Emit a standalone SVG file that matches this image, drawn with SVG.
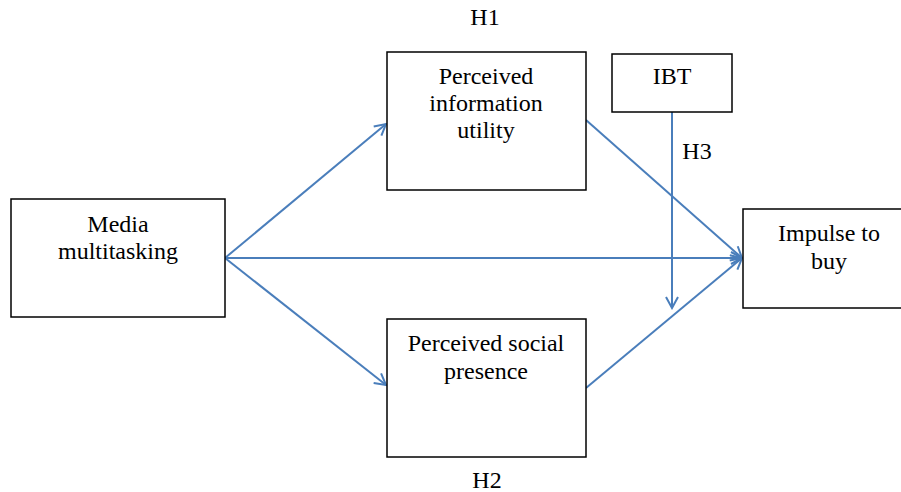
<svg xmlns="http://www.w3.org/2000/svg" width="901" height="492" viewBox="0 0 901 492">
<style>
.box{fill:#fff;stroke:#000;stroke-width:1.5}
.t{font-family:"Liberation Serif","Times New Roman",serif;font-size:24px;fill:#000;text-anchor:middle}
.c{stroke:#4a7ebb;stroke-width:2;fill:none}
</style>
<defs>
<marker id="a" markerWidth="14" markerHeight="14" refX="12" refY="7" orient="auto" markerUnits="userSpaceOnUse">
<path d="M1,1 L12,7 L1,13" fill="none" stroke="#4a7ebb" stroke-width="2"/>
</marker>
</defs>
<rect width="901" height="492" fill="#fff"/>
<g id="connectors">
<line class="c" x1="225" y1="258" x2="386" y2="124" marker-end="url(#a)"/>
<line class="c" x1="225" y1="258" x2="386" y2="385" marker-end="url(#a)"/>
<line class="c" x1="225" y1="258" x2="742" y2="258" marker-end="url(#a)"/>
<line class="c" x1="586" y1="120" x2="742" y2="258" marker-end="url(#a)"/>
<line class="c" x1="586" y1="388" x2="742" y2="258" marker-end="url(#a)"/>
<line class="c" x1="672" y1="112" x2="672" y2="308" marker-end="url(#a)"/>
</g>
<g id="media">
<rect class="box" x="11" y="199" width="214" height="118"/>
<text class="t" x="118" y="232">Media</text>
<text class="t" x="118" y="259">multitasking</text>
</g>
<g id="piu">
<rect class="box" x="387" y="52" width="199" height="138"/>
<text class="t" x="486" y="84">Perceived</text>
<text class="t" x="486" y="111">information</text>
<text class="t" x="486" y="138">utility</text>
</g>
<g id="ibt">
<rect class="box" x="612" y="54" width="120" height="58"/>
<text class="t" x="672" y="84">IBT</text>
</g>
<g id="impulse">
<rect class="box" x="743" y="209" width="170" height="99"/>
<text class="t" x="829" y="241">Impulse to</text>
<text class="t" x="829" y="269">buy</text>
</g>
<g id="psp">
<rect class="box" x="387" y="319" width="199" height="138"/>
<text class="t" x="486" y="351">Perceived social</text>
<text class="t" x="486" y="379">presence</text>
</g>
<g id="labels">
<text class="t" x="485" y="25">H1</text>
<text class="t" x="487" y="488">H2</text>
<text class="t" x="697" y="159">H3</text>
</g>
</svg>
